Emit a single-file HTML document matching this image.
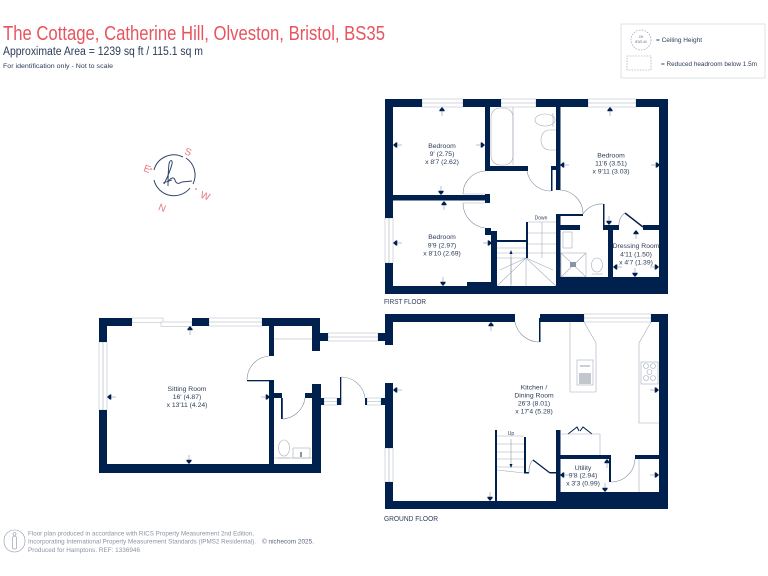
<!DOCTYPE html>
<html><head><meta charset="utf-8"><style>
html,body{margin:0;padding:0;background:#fff}
svg{display:block}
text{font-family:"Liberation Sans",sans-serif}
.r{font-size:6.8px;fill:#2f3d58;text-anchor:middle}
.w{fill:#fff;stroke:#c3cad4;stroke-width:.7}
.l{fill:none;stroke:#a3acb9;stroke-width:.6}
.d{fill:none;stroke:#7d899c;stroke-width:.6}
</style></head><body>
<svg width="768" height="576" viewBox="0 0 768 576" xmlns="http://www.w3.org/2000/svg">
<defs>
<g id="a"><path d="M0-3L2.600 0 2.500 1.300H-2.500L-2.600 0Z" fill="#00214d"/><path d="M0 1V6" stroke="#8a94a6" stroke-width=".6"/></g>
</defs>
<rect width="768" height="576" fill="#fff"/>

<!-- Header -->
<text x="3" y="40" font-size="20" fill="#e8545e" textLength="382" lengthAdjust="spacingAndGlyphs">The Cottage, Catherine Hill, Olveston, Bristol, BS35</text>
<text x="3" y="55" font-size="11.500" fill="#2b3b58" textLength="200" lengthAdjust="spacingAndGlyphs">Approximate Area = 1239 sq ft / 115.1 sq m</text>
<text x="3" y="68" font-size="6.800" fill="#2f3d58" textLength="110" lengthAdjust="spacingAndGlyphs">For identification only - Not to scale</text>

<!-- Legend -->
<rect x="621" y="24" width="144" height="54" fill="#fff" stroke="#d5dae0" stroke-width=".8"/>
<circle cx="641" cy="40" r="10" fill="none" stroke="#8d97a6" stroke-width=".6" stroke-dasharray="1.600 1.200"/>
<text x="641" y="38" font-size="3.200" fill="#555f72" text-anchor="middle">CH</text>
<text x="641" y="43" font-size="3.200" fill="#555f72" text-anchor="middle">8'0/2.44</text>
<rect x="627" y="56" width="24" height="14" fill="none" stroke="#8d97a6" stroke-width=".6" stroke-dasharray="1.600 1.200"/>
<text x="656" y="42" font-size="6.400" fill="#2f3d58" textLength="46" lengthAdjust="spacingAndGlyphs">= Ceiling Height</text>
<text x="661" y="66" font-size="6.400" fill="#2f3d58" textLength="96" lengthAdjust="spacingAndGlyphs">= Reduced headroom below 1.5m</text>

<!-- Compass -->
<g fill="none" stroke="#2f4468" stroke-width="1">
<path d="M154 170A20.500 20.500 0 0 1 183 157"/>
<path d="M186 158A20.500 20.500 0 0 1 193 184"/>
<path d="M190 188A20.500 20.500 0 0 1 154 180"/>
<path d="M164 184C168 176 171 168 172 164C173 160 170 159 169 164C168 172 168 180 168 186M168 182C171 177 174 177 175 180C176 184 179 184 182 182L192 181" stroke-width="1"/>
<path d="M163 183L172 180" stroke-width=".7"/>
</g>
<g fill="#e8787e" font-size="10" text-anchor="middle">
<text transform="translate(187 155) rotate(20)">S</text>
<text transform="translate(146 172) rotate(20)">E</text>
<text transform="translate(204 199) rotate(20)">W</text>
<text transform="translate(161 211) rotate(20)">N</text>
</g>
<circle cx="151" cy="169" r=".9" fill="#e8787e"/><circle cx="196" cy="189" r=".9" fill="#e8787e"/>

<!-- FIRST FLOOR fixtures -->
<g class="l">
<path d="M513 107V165"/>
<rect x="491" y="108" width="22" height="57" rx="9"/>
<ellipse cx="545" cy="120" rx="10" ry="6"/>
<path d="M553 113V127"/>
<path d="M556 130H549A8 10 0 0 0 549 150H556"/>
<path d="M497 248H526M497 253H526M497 258H526"/>
<path d="M528 222H556M528 233H556M528 244H556M528 253H556M542 222V258"/>
<path d="M497 286L526 258L556 286"/>
<path d="M511 258V286M526 258V286M500 270L526 258L553 270"/>
<rect x="561" y="253" width="25" height="24"/>
<path d="M561 253L586 277M586 253L561 277"/>
<rect x="563" y="232" width="9" height="16"/>
<ellipse cx="597" cy="265" rx="5.500" ry="7"/>
<path d="M592 274H603"/>
</g>
<rect x="570" y="262" width="6" height="5" fill="#8a94a6"/>
<path d="M511 251V284" stroke="#7d899c" stroke-width=".5"/>
<path d="M511 250L509.500 254H512.500Z" fill="#00214d"/>

<!-- First floor windows -->
<rect class="w" x="422" y="99" width="41" height="8"/><path class="l" d="M422 103H463"/>
<rect class="w" x="501" y="99" width="35" height="8"/><path class="l" d="M501 103H536"/>
<rect class="w" x="588" y="99" width="48" height="8"/><path class="l" d="M588 103H636"/>
<rect class="w" x="385" y="218" width="8" height="45"/><path class="l" d="M389 218V263"/>

<!-- First floor walls -->
<g fill="#00214d">
<rect x="385" y="99" width="37" height="8"/><rect x="463" y="99" width="38" height="8"/><rect x="536" y="99" width="52" height="8"/><rect x="636" y="99" width="32" height="8"/>
<rect x="385" y="107" width="8" height="111"/><rect x="385" y="263" width="8" height="31"/>
<rect x="659" y="99" width="9" height="195"/>
<rect x="385" y="286" width="283" height="8"/>
<rect x="556" y="277" width="112" height="9"/>
<rect x="467" y="282" width="30" height="5"/>
<rect x="485" y="107" width="5" height="64"/>
<rect x="485" y="166" width="43" height="5"/>
<rect x="393" y="195" width="97" height="5.500"/>
<rect x="485" y="194" width="5" height="9"/>
<rect x="485" y="228" width="6" height="7"/><rect x="491" y="231" width="6" height="56"/>
<rect x="497" y="240" width="29" height="2"/>
<rect x="526" y="222" width="2" height="36"/>
<rect x="556" y="107" width="4.500" height="83"/>
<rect x="551" y="166" width="5" height="4"/><rect x="551" y="166" width="1.500" height="25"/>
<rect x="556" y="214" width="4.500" height="64"/>
<rect x="560" y="214" width="23" height="2"/>
<rect x="560" y="225" width="20" height="5"/>
<rect x="603" y="204" width="1.500" height="22"/>
<rect x="603" y="225" width="16" height="5"/>
<rect x="608" y="230" width="5" height="48"/>
<rect x="643" y="225" width="17" height="5"/>
</g>
<path d="M625 213L643 227" stroke="#00214d" stroke-width="1.500"/>
<path class="l" d="M463 194H485M463 203H485"/>
<g class="d">
<path d="M463 194A23 23 0 0 1 485 171"/>
<path d="M463 203A25 25 0 0 0 485 228"/>
<path d="M527 171A24 24 0 0 0 551 191"/>
<path d="M560 190A24 24 0 0 1 583 214"/>
<path d="M583 214A22 22 0 0 1 603 204"/>
<path d="M619 225A14 14 0 0 1 625 213"/>
</g>

<!-- Sitting / ground left -->
<g class="w">
<rect x="132" y="318" width="31" height="4.500"/>
<rect x="161" y="322" width="31" height="4.500"/>
<rect x="209" y="318" width="53" height="8"/>
<rect x="99" y="342" width="8" height="68"/>
<rect x="328" y="333" width="50" height="8"/>
<rect x="324" y="398" width="13" height="7"/>
<rect x="367" y="398" width="14" height="7"/>
<rect x="385" y="448" width="8" height="34"/>
<rect x="584" y="314" width="67" height="8"/>
</g>
<path class="l" d="M209 322H262M103 342V410M328 337H378M324 401.500H337M367 401.500H381M389 448V482M584 318H651"/>
<g fill="#00214d">
<rect x="99" y="318" width="33" height="8"/><rect x="99" y="318" width="8" height="24"/>
<rect x="99" y="410" width="8" height="63"/><rect x="99" y="464" width="221" height="9"/>
<rect x="192" y="318" width="17" height="8"/>
<rect x="262" y="318" width="58" height="8"/>
<rect x="269" y="326" width="5" height="30"/>
<rect x="312" y="326" width="8" height="25"/>
<rect x="320" y="333" width="8" height="8"/><rect x="378" y="333" width="7" height="8"/>
<rect x="247" y="380" width="27" height="1.300"/>
<rect x="269" y="381" width="5" height="84"/>
<rect x="274" y="393" width="8" height="5"/>
<rect x="281" y="398" width="1.800" height="21"/>
<rect x="305" y="393" width="7" height="5"/>
<rect x="312" y="384" width="9" height="89"/>
<rect x="321" y="398" width="3" height="7"/>
<rect x="337" y="398" width="3" height="7"/><rect x="340" y="377" width="1.300" height="28"/>
<rect x="365" y="398" width="2" height="7"/><rect x="381" y="398" width="4" height="7"/>
</g>
<g class="l">
<path d="M274 339H312"/>
<path d="M274 458H312"/>
<ellipse cx="284" cy="448" rx="5.500" ry="8"/>
<rect x="293" y="448" width="17" height="10"/>
<path d="M278 458H290"/>
</g>
<rect x="300" y="452" width="2" height="5" fill="#8a94a6"/>
<g class="d">
<path d="M269 356A24 24 0 0 0 247 380"/>
<path d="M282 419A24 24 0 0 0 305 398"/>
<path d="M341 377A24 24 0 0 1 365 398"/>
</g>

<!-- Ground right -->
<g fill="#00214d">
<rect x="385" y="314" width="130" height="8"/>
<rect x="385" y="314" width="8" height="31"/><rect x="380" y="333" width="5" height="8"/>
<rect x="385" y="383" width="8" height="65"/><rect x="381" y="398" width="4" height="7"/>
<rect x="385" y="482" width="8" height="27"/>
<rect x="385" y="501" width="283" height="8"/>
<rect x="540" y="314" width="44" height="8"/>
<rect x="539" y="318" width="1.500" height="24"/>
<rect x="651" y="314" width="17" height="8"/>
<rect x="659" y="314" width="9" height="195"/>
<rect x="556" y="430" width="4.500" height="71"/>
<rect x="560" y="455" width="51" height="4"/>
<rect x="609" y="455" width="2" height="27"/>
<rect x="635" y="455" width="25" height="4"/>
<rect x="556" y="492" width="112" height="9"/>
<rect x="495" y="430" width="2" height="72"/>
<rect x="524" y="437" width="2" height="36"/>
<rect x="524" y="472" width="5" height="1.500"/>
<rect x="550" y="472" width="7" height="1.500"/>
</g>
<path d="M533 460L550 473" stroke="#00214d" stroke-width="1.300" fill="none"/>
<path d="M568 434L577 427L579 431M592 434L583 427L580 431" stroke="#00214d" stroke-width="1" fill="none"/>
<g class="l">
<path d="M570 322V392H596V343L584 322"/>
<path d="M651 322L639 343V423H659"/>
<path d="M560 434H600V455"/>
<path d="M639 459V492"/>
<path d="M497 436H524M497 444H524M497 452H524M497 459H524M497 467H524M497 470L524 473"/>
<rect x="577" y="360" width="16" height="25"/>
<rect x="641" y="362" width="17" height="22"/>
<circle cx="646" cy="366" r="2.500"/><circle cx="653" cy="366" r="2.500"/><circle cx="649.500" cy="372" r="2.500"/><circle cx="646" cy="378" r="2.500"/><circle cx="653" cy="378" r="2.500"/>
</g>
<path d="M511 439V465" stroke="#7d899c" stroke-width=".5"/><path d="M511 468L509.500 464H512.500Z" fill="#00214d"/>
<path d="M580 373V384M582 373V384M584 373V384M586 373V384M588 373V384M590 373V384" stroke="#667287" stroke-width=".8" fill="none"/>
<path d="M580 366H590" stroke="#667287" stroke-width=".7"/>
<path class="d" d="M515 322A25 25 0 0 0 539 342"/>
<path class="d" d="M611 482A24 24 0 0 0 635 459"/>
<path class="d" d="M529 473A8 13 0 0 1 533 460"/>

<!-- Arrows -->
<use href="#a" transform="translate(442 110)"/>
<use href="#a" transform="translate(396 145) rotate(-90)"/>
<use href="#a" transform="translate(482 145) rotate(90)"/>
<use href="#a" transform="translate(441 192) rotate(180)"/>
<use href="#a" transform="translate(444 204)"/>
<use href="#a" transform="translate(396 243) rotate(-90)"/>
<use href="#a" transform="translate(489 243) rotate(90)"/>
<use href="#a" transform="translate(443 283) rotate(180)"/>
<use href="#a" transform="translate(610 110)"/>
<use href="#a" transform="translate(563 165) rotate(-90)"/>
<use href="#a" transform="translate(657 165) rotate(90)"/>
<use href="#a" transform="translate(609 222) rotate(180)"/>
<use href="#a" transform="translate(636 233)"/>
<use href="#a" transform="translate(616 267) rotate(-90)"/>
<use href="#a" transform="translate(656 267) rotate(90)"/>
<use href="#a" transform="translate(635 274) rotate(180)"/>
<use href="#a" transform="translate(190 329)"/>
<use href="#a" transform="translate(110 397) rotate(-90)"/>
<use href="#a" transform="translate(189 461) rotate(180)"/>
<use href="#a" transform="translate(491 325)"/>
<use href="#a" transform="translate(396 390) rotate(-90)"/>
<use href="#a" transform="translate(656 390) rotate(90)"/>
<use href="#a" transform="translate(490 498) rotate(180)"/>
<use href="#a" transform="translate(607 462)"/>
<use href="#a" transform="translate(563 475) rotate(-90)"/>
<use href="#a" transform="translate(656 475) rotate(90)"/>
<use href="#a" transform="translate(605 489) rotate(180)"/>
<use href="#a" transform="translate(267 397) rotate(90)"/>

<!-- Room labels -->
<text class="r" x="442" y="148">Bedroom</text><text class="r" x="442" y="156">9' (2.75)</text><text class="r" x="442" y="164">x 8'7 (2.62)</text>
<text class="r" x="442" y="239">Bedroom</text><text class="r" x="442" y="247.500">9'9 (2.97)</text><text class="r" x="442" y="255.500">x 8'10 (2.69)</text>
<text class="r" x="611" y="157.500">Bedroom</text><text class="r" x="611" y="165.500">11'6 (3.51)</text><text class="r" x="611" y="173.500">x 9'11 (3.03)</text>
<text class="r" x="636" y="248">Dressing Room</text><text class="r" x="636" y="256.500">4'11 (1.50)</text><text class="r" x="636" y="264.500">x 4'7 (1.39)</text>
<text class="r" x="187" y="391">Sitting Room</text><text class="r" x="187" y="399">16' (4.87)</text><text class="r" x="187" y="407">x 13'11 (4.24)</text>
<text class="r" x="534" y="389.500">Kitchen /</text><text class="r" x="534" y="397.500">Dining Room</text><text class="r" x="534" y="405.500">26'3 (8.01)</text><text class="r" x="534" y="413.500">x 17'4 (5.28)</text>
<text class="r" x="583" y="470">Utility</text><text class="r" x="583" y="477.500">9'8 (2.94)</text><text class="r" x="583" y="485.500">x 3'3 (0.99)</text>
<text x="541" y="219.500" font-size="5" fill="#2f3d58" text-anchor="middle">Down</text>
<text x="511" y="435" font-size="5" fill="#2f3d58" text-anchor="middle">Up</text>
<text x="384" y="304" font-size="7" fill="#2f3d58" textLength="42" lengthAdjust="spacingAndGlyphs">FIRST FLOOR</text>
<text x="384" y="521" font-size="7" fill="#2f3d58" textLength="54" lengthAdjust="spacingAndGlyphs">GROUND FLOOR</text>

<!-- Footer -->
<rect x="4" y="530" width="21" height="22" rx="10.500" fill="none" stroke="#8a94a6" stroke-width=".6"/>
<circle cx="14.500" cy="534" r="1.500" fill="none" stroke="#8a94a6" stroke-width=".6"/>
<rect x="12.500" y="536.500" width="4" height="12.500" rx="1.500" fill="none" stroke="#8a94a6" stroke-width=".6"/>
<g fill="#8a94a6" font-size="6.200">
<text x="28" y="535.500" textLength="226" lengthAdjust="spacingAndGlyphs">Floor plan produced in accordance with RICS Property Measurement 2nd Edition,</text>
<text x="28" y="543.500" textLength="228" lengthAdjust="spacingAndGlyphs">Incorporating International Property Measurement Standards (IPMS2 Residential).</text>
<text x="262" y="543.500" textLength="52" lengthAdjust="spacingAndGlyphs" fill="#5c667a">© nichecom 2025.</text>
<text x="28" y="552" textLength="112" lengthAdjust="spacingAndGlyphs">Produced for Hamptons.  REF: 1336946</text>
</g>
</svg>
</body></html>
